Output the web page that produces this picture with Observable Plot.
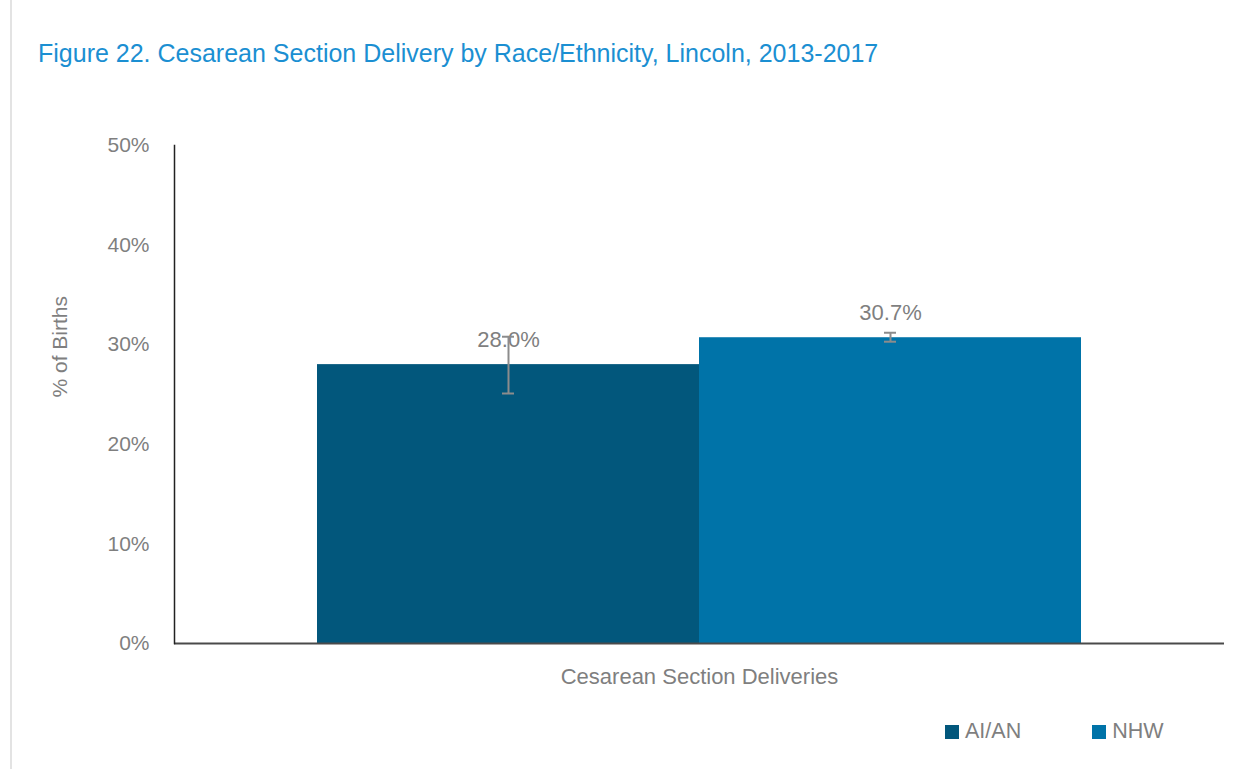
<!DOCTYPE html>
<html>
<head>
<meta charset="utf-8">
<script src="https://cdn.jsdelivr.net/npm/d3@7"></script>
<script src="https://cdn.jsdelivr.net/npm/@observablehq/plot@0.6"></script>
<style>
  html, body { margin: 0; padding: 0; background: #fff; }
  body { width: 1254px; height: 769px; position: relative; overflow: hidden;
         font-family: "Liberation Sans", Arial, sans-serif; }
  #edge { position: absolute; left: 10px; top: 0; width: 2px; height: 769px; background: #e3e3e3; z-index: 5; }
  #title { position: absolute; left: 38px; top: 38px; font-size: 25px; line-height: 30px; color: #1b8fd2; white-space: nowrap; }
  #chart { position: absolute; left: 0; top: 80px; }
  #legend { position: absolute; top: 719px; left: 945px; display: flex; align-items: center; font-size: 21.5px; color: #7f7f7f; }
  .item { display: flex; align-items: center; }
  .sw { width: 14px; height: 14px; margin-right: 6px; }
</style>
</head>
<body>
<div id="edge"></div>
<div id="title">Figure 22. Cesarean Section Delivery by Race/Ethnicity, Lincoln, 2013-2017</div>
<div id="chart"></div>
<div id="legend"></div>
<script>
const categories = ["Cesarean Section Deliveries"];
const groups = ["AI/AN", "NHW"];
const values = [28.0, 30.7];
const lowerCI = [25.1, 30.3];
const upperCI = [30.8, 31.2];
const colors = ["#02577c", "#0073a8"];
const yTicks = [0, 10, 20, 30, 40, 50];
const yLabel = "% of Births";

const data = groups.map((g, i) => ({
  category: categories[0], group: g, value: values[i], lo: lowerCI[i], hi: upperCI[i]
}));

const gray = "#7f7f7f";
const errColor = "#8c8c8c";

const chart = Plot.plot({
  width: 1254,
  height: 620,
  marginTop: 65,
  marginLeft: 174,
  marginRight: 30,
  marginBottom: 57,
  style: { fontFamily: "'Liberation Sans', Arial, sans-serif", fontSize: "20px", color: gray, background: "white" },
  fx: { domain: categories, padding: 0, label: null },
  x: { domain: groups, paddingInner: 0, paddingOuter: 0.3725, axis: null },
  y: { domain: [0, 50] },
  color: { domain: groups, range: colors },
  marks: [
    Plot.axisY({ ticks: yTicks, tickFormat: d => d + "%", tickSize: 0, tickPadding: 25,
      label: null, fill: gray, fontSize: 21 }),
    Plot.text([yLabel], { frameAnchor: "left", text: d => d, rotate: -90, dx: -114, dy: 3,
      fill: gray, fontSize: 21, facetAnchor: "left" }),
    Plot.axisFx({ anchor: "bottom", tickSize: 0, tickPadding: 25, label: null, fill: gray, fontSize: 22 }),
    Plot.barY(data, { fx: "category", x: "group", y: "value", fill: "group" }),
    Plot.ruleY([0], { stroke: "#4a4a4a", strokeWidth: 2 }),
    Plot.frame({ anchor: "left", stroke: "#222", strokeWidth: 1.5 }),
    Plot.text(data, { fx: "category", x: "group", y: "value", text: d => d.value.toFixed(1) + "%",
      dy: -25, fill: gray, fontSize: 22 }),
    Plot.ruleX(data, { fx: "category", x: "group", y1: "lo", y2: "hi", stroke: errColor, strokeWidth: 2 }),
    Plot.tickY(data, { fx: "category", x: "group", y: "lo", insetLeft: 185, insetRight: 185, stroke: errColor, strokeWidth: 2 }),
    Plot.tickY(data, { fx: "category", x: "group", y: "hi", insetLeft: 185, insetRight: 185, stroke: errColor, strokeWidth: 2 })
  ]
});
document.getElementById("chart").appendChild(chart);

const legend = document.getElementById("legend");
groups.forEach((g, i) => {
  const item = document.createElement("div");
  item.className = "item";
  if (i > 0) item.style.marginLeft = "71px";
  const sw = document.createElement("div");
  sw.className = "sw";
  sw.style.background = colors[i];
  const label = document.createElement("span");
  label.textContent = g;
  item.appendChild(sw);
  item.appendChild(label);
  legend.appendChild(item);
});
</script>
</body>
</html>
